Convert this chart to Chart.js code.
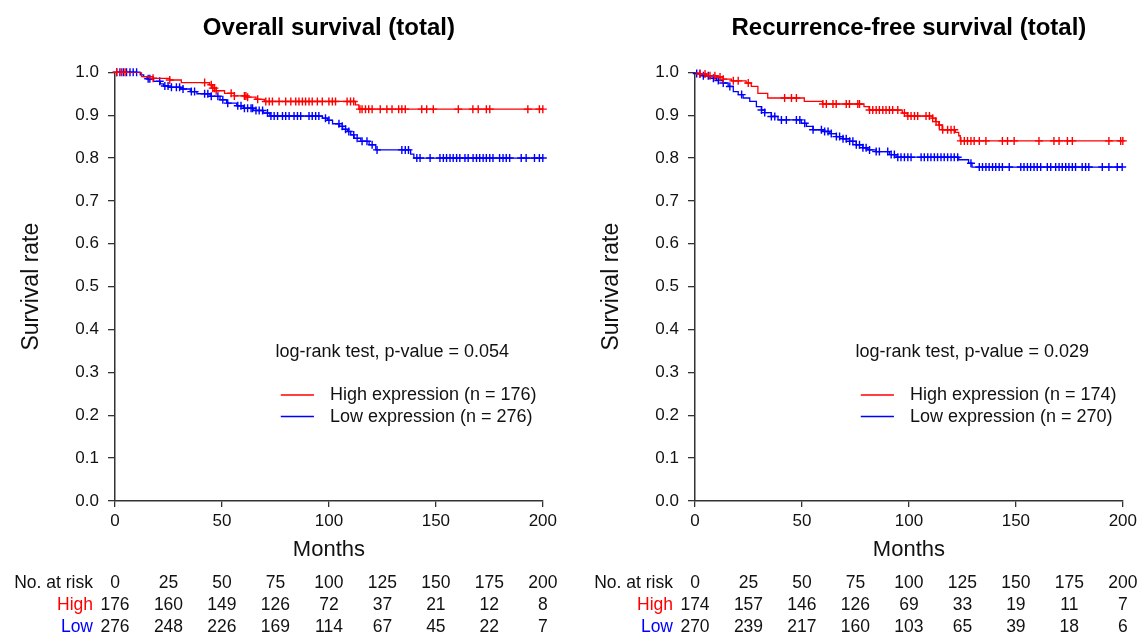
<!DOCTYPE html>
<html>
<head>
<meta charset="utf-8">
<title>Survival curves</title>
<script src="https://cdn.jsdelivr.net/npm/chart.js@4.4.1/dist/chart.umd.min.js"></script>
<style>
  html, body { margin: 0; padding: 0; background: #fff; }
  .panel { position: absolute; top: 0; }
</style>
</head>
<body>
<canvas id="os-chart" class="panel" width="561" height="637" style="left:0"></canvas>
<canvas id="rfs-chart" class="panel" width="561" height="637" style="left:580px"></canvas>
<script>
// Numbers at risk
const riskMonths = [0, 25, 50, 75, 100, 125, 150, 175, 200];
const osHighRisk = [176, 160, 149, 126, 72, 37, 21, 12, 8];
const osLowRisk = [276, 248, 226, 169, 114, 67, 45, 22, 7];
const rfsHighRisk = [174, 157, 146, 126, 69, 33, 19, 11, 7];
const rfsLowRisk = [270, 239, 217, 160, 103, 65, 39, 18, 6];

// Overall survival - step points (months, survival)
const osHighTime = [0, 12.4, 17.8, 25.6, 31, 44.2, 45.7, 47.3, 51.2, 55.8, 61.7, 65.9, 69.8, 112.4, 114, 200];
const osHighSurv = [1, 0.990, 0.986, 0.982, 0.976, 0.971, 0.963, 0.957, 0.951, 0.945, 0.942, 0.937, 0.932, 0.924, 0.914, 0.914];
const osLowTime = [0, 11.8, 13.4, 15, 18.1, 21.2, 22.7, 25, 30.5, 35.2, 38.3, 44.5, 49.1, 52.2, 56.9, 60, 64.6, 69.3, 72.4,
  97, 99.4, 101.7, 104.8, 106.4, 108.7, 110.2, 111.8, 114.9, 118.8, 121.9, 138.2, 139.7, 200];
const osLowSurv = [1, 0.994, 0.990, 0.985, 0.979, 0.973, 0.968, 0.965, 0.961, 0.955, 0.950, 0.944, 0.936, 0.928, 0.922, 0.916, 0.911, 0.905, 0.898,
  0.893, 0.888, 0.880, 0.874, 0.867, 0.862, 0.854, 0.846, 0.839, 0.831, 0.819, 0.809, 0.800, 0.800];

// Recurrence-free survival - step points
const rfsHighTime = [0, 2.3, 5.4, 10, 13.1, 17, 23.9, 26.3, 29.4, 34, 51.1, 59.6, 79, 81.4, 96.9, 99.2, 110.9, 112.4, 114, 115.5, 121.7, 123.3, 124, 200];
const rfsHighSurv = [1, 0.996, 0.992, 0.989, 0.984, 0.980, 0.975, 0.967, 0.951, 0.940, 0.932, 0.926, 0.920, 0.912, 0.905, 0.898, 0.893, 0.885, 0.877, 0.866, 0.860, 0.852, 0.840, 0.840];
const rfsLowTime = [0, 0.8, 3.9, 7, 10, 13.1, 15.5, 17.9, 20.2, 22.5, 25.6, 28.7, 31.1, 32.6, 35.7, 38.8, 49.7, 52.1, 55.2, 59.9, 63, 66.1,
  69.2, 72.3, 75.4, 78.5, 80.8, 84.7, 90.9, 94, 123.3, 127.9, 129.5, 200];
const rfsLowSurv = [1, 0.997, 0.992, 0.986, 0.981, 0.975, 0.967, 0.955, 0.948, 0.940, 0.932, 0.920, 0.912, 0.906, 0.897, 0.889, 0.881, 0.874, 0.866, 0.862, 0.857, 0.850,
  0.845, 0.839, 0.831, 0.824, 0.819, 0.815, 0.808, 0.802, 0.796, 0.788, 0.779, 0.779];

// Censoring times (months)
const osHighCensor = [0.8, 3.1, 4.7, 17.8, 25.6, 41.9, 45, 45.7, 46.5, 47.3, 54.3, 55.8, 60.5, 61.2, 62, 66.7, 70.5, 72.1, 73.6, 76.7, 79.8,
  82.2, 84.5, 86, 87.6, 89.1, 90.7, 92.2, 94.6, 96.9, 100, 101.6, 103.1, 108.5, 110.1, 111.6, 114.5, 115.5, 117.1, 118.6, 120.2, 124,
  127.1, 129.5, 132.6, 134.1, 135.7, 143.4, 145.7, 148.8, 160.5, 167.3, 169.8, 173.6, 175.2, 193, 198.4, 200];
const osLowCensor = [0.8, 2.3, 3.9, 5.4, 7, 8.5, 10.1, 15.5, 16.3, 20.9, 23.3, 24.8, 26.4, 28.7, 30.2, 31.8, 35.7, 37.2, 41.9, 43.4, 45,
  48.1, 50.4, 52.7, 57.4, 58.9, 60.5, 62, 63.6, 64.3, 65.9, 67.4, 69, 71.3, 72.9, 74.4, 76, 78.3, 79.8, 81.4, 83.7, 85.3, 86.8, 90.7,
  92.2, 93.8, 95.3, 98.4, 100, 104.7, 106.2, 107.8, 109.3, 111.6, 113.2, 115.5, 117.8, 120.2, 122.5, 134.1, 135.7, 137.2, 141.1, 142.6,
  147.3, 151.9, 153.5, 155, 156.6, 158.1, 159.7, 161.2, 163.6, 165.1, 167.4, 169, 170.5, 172.1, 173.6, 175.2, 176.7, 179.8, 181.4,
  182.9, 184.5, 189.9, 192.2, 196.1, 198.4, 200];
const rfsHighCensor = [2.3, 4.7, 7, 9.3, 11.7, 13.2, 17.9, 20.2, 24.9, 41.9, 45.1, 47.4, 59.8, 61.4, 64.5, 66, 70.7, 72.2, 76.1, 76.9,
  81.6, 83.1, 84.7, 86.2, 87.8, 89.3, 90.9, 92.4, 94.8, 97.9, 99.5, 101, 102.6, 104.1, 108, 109.6, 111.1, 112.7, 114.2, 115.8, 118.1,
  119.7, 121.2, 124.3, 125.9, 127.4, 129, 130.5, 132.9, 136, 143.7, 146.1, 149.2, 160.8, 167.8, 170.2, 174.1, 176.4, 193.5, 199, 200];
const rfsLowCensor = [0.8, 2.3, 3.9, 6.2, 8.6, 10.9, 13.2, 16.3, 21.8, 31.1, 32.6, 35.7, 37.3, 40.4, 42.7, 47.4, 49, 51.3, 55.2, 59.1,
  60.6, 62.2, 63.7, 66.1, 67.6, 69.2, 70.7, 72.3, 73.8, 75.4, 76.9, 78.5, 80, 81.6, 84.7, 86.2, 90.1, 91.7, 93.2, 94.8, 96.3, 97.9,
  99.5, 101, 105.7, 107.2, 108.8, 110.3, 111.9, 113.4, 115, 116.5, 118.1, 119.7, 121.2, 122.8, 129, 132.9, 134.4, 136, 137.5, 139.1,
  140.6, 142.2, 143.7, 146.9, 152.3, 153.8, 155.4, 156.9, 158.5, 160, 161.6, 164.7, 166.3, 168.6, 170.2, 171.7, 173.3, 174.8, 176.4,
  177.9, 181, 182.6, 184.1, 190.4, 193.5, 197.4, 199.7];

const RED = '#ff0000';
const BLUE = '#0000ff';
const AXIS = '#333333';
const FONT = "'Liberation Sans', Arial, Helvetica, sans-serif";

Chart.defaults.font.family = FONT;
Chart.defaults.color = '#111';

// survival value in effect at month t (right-continuous step function)
function survAt(times, surv, t) {
  let s = surv[0];
  for (let i = 0; i < times.length; i++) {
    if (times[i] <= t) s = surv[i];
  }
  return s;
}

function stepData(times, surv) {
  return times.map((t, i) => ({ x: t, y: surv[i] }));
}

function censorData(times, surv, cens) {
  return cens.map(t => ({ x: t, y: survAt(times, surv, t) }));
}

// p-value text, line legend and the number-at-risk table
const kmExtras = {
  id: 'kmExtras',
  afterDraw(chart, args, opts) {
    const { ctx, chartArea } = chart;
    const xs = chart.scales.x;
    const ys = chart.scales.y;
    ctx.save();
    ctx.font = '18px ' + FONT;
    ctx.textBaseline = 'middle';
    ctx.fillStyle = '#111';
    ctx.textAlign = 'left';
    ctx.fillText(opts.pText, xs.getPixelForValue(75), ys.getPixelForValue(0.348));

    opts.legend.forEach((item, i) => {
      const ly = ys.getPixelForValue(0.247 - i * 0.05);
      ctx.strokeStyle = item.color;
      ctx.lineWidth = 1.5;
      ctx.beginPath();
      ctx.moveTo(xs.getPixelForValue(77.5), ly);
      ctx.lineTo(xs.getPixelForValue(93), ly);
      ctx.stroke();
      ctx.fillStyle = '#111';
      ctx.fillText(item.label, xs.getPixelForValue(100.5), ly);
    });

    // number at risk
    ctx.font = '17.5px ' + FONT;
    const rows = [
      { label: 'No. at risk', color: '#111', values: riskMonths },
      { label: 'High', color: RED, values: opts.high },
      { label: 'Low', color: BLUE, values: opts.low }
    ];
    const x0 = xs.getPixelForValue(0);
    rows.forEach((row, r) => {
      const ry = chartArea.bottom + 82.5 + r * 21.7;
      ctx.textAlign = 'right';
      ctx.fillStyle = row.color;
      ctx.fillText(row.label, x0 - 22, ry);
      ctx.textAlign = 'center';
      ctx.fillStyle = '#111';
      row.values.forEach((v, k) => {
        ctx.fillText(String(v), xs.getPixelForValue(riskMonths[k]), ry);
      });
    });
    ctx.restore();
  }
};

function buildChart(id, title, high, low, pText, nHigh, nLow, highRisk, lowRisk) {
  const ctx = document.getElementById(id);
  return new Chart(ctx, {
    type: 'line',
    data: {
      datasets: [
        {
          data: stepData(high.time, high.surv),
          borderColor: RED, borderWidth: 1.3, stepped: 'before',
          pointRadius: 0, fill: false
        },
        {
          data: censorData(high.time, high.surv, high.censor),
          showLine: false, pointStyle: 'cross', pointRadius: 4,
          borderColor: RED, pointBorderWidth: 1.4, clip: false
        },
        {
          data: stepData(low.time, low.surv),
          borderColor: BLUE, borderWidth: 1.3, stepped: 'before',
          pointRadius: 0, fill: false
        },
        {
          data: censorData(low.time, low.surv, low.censor),
          showLine: false, pointStyle: 'cross', pointRadius: 4,
          borderColor: BLUE, pointBorderWidth: 1.4, clip: false
        }
      ]
    },
    options: {
      responsive: false,
      animation: false,
      events: [],
      layout: { padding: { left: 0, right: 16.5, top: 0, bottom: 0 } },
      plugins: {
        legend: { display: false },
        tooltip: { enabled: false },
        title: {
          display: true,
          text: title,
          fullSize: false,
          color: '#000',
          font: { size: 24, weight: 'bold', family: FONT },
          padding: { top: 13.5, bottom: 30 }
        },
        kmExtras: {
          pText: pText,
          legend: [
            { label: 'High expression (n = ' + nHigh + ')', color: RED },
            { label: 'Low expression (n = ' + nLow + ')', color: BLUE }
          ],
          high: highRisk,
          low: lowRisk
        }
      },
      scales: {
        x: {
          type: 'linear',
          min: 0,
          max: 200,
          afterFit: (s) => { s.height = 136; },
          ticks: { stepSize: 50, font: { size: 17 }, padding: 4, maxRotation: 0 },
          grid: { drawOnChartArea: false, drawTicks: true, tickLength: 6, color: AXIS, lineWidth: 1.3 },
          border: { display: true, color: AXIS, width: 1.5 },
          title: {
            display: true, text: 'Months', color: '#111',
            font: { size: 22 }, padding: { top: 0, bottom: 74 }
          }
        },
        y: {
          min: 0,
          max: 1,
          afterFit: (s) => { s.width = 115; },
          ticks: { stepSize: 0.1, font: { size: 17 }, padding: 9, callback: (v) => v.toFixed(1) },
          grid: { drawOnChartArea: false, drawTicks: true, tickLength: 7, color: AXIS, lineWidth: 1.3 },
          border: { display: true, color: AXIS, width: 1.5 },
          title: {
            display: true, text: 'Survival rate', color: '#111',
            font: { size: 23 }, padding: { top: 18, bottom: 0 }
          }
        }
      }
    },
    plugins: [kmExtras]
  });
}

buildChart('os-chart', 'Overall survival (total)',
  { time: osHighTime, surv: osHighSurv, censor: osHighCensor },
  { time: osLowTime, surv: osLowSurv, censor: osLowCensor },
  'log-rank test, p-value = 0.054', 176, 276, osHighRisk, osLowRisk);

buildChart('rfs-chart', 'Recurrence-free survival (total)',
  { time: rfsHighTime, surv: rfsHighSurv, censor: rfsHighCensor },
  { time: rfsLowTime, surv: rfsLowSurv, censor: rfsLowCensor },
  'log-rank test, p-value = 0.029', 174, 270, rfsHighRisk, rfsLowRisk);
</script>
</body>
</html>
